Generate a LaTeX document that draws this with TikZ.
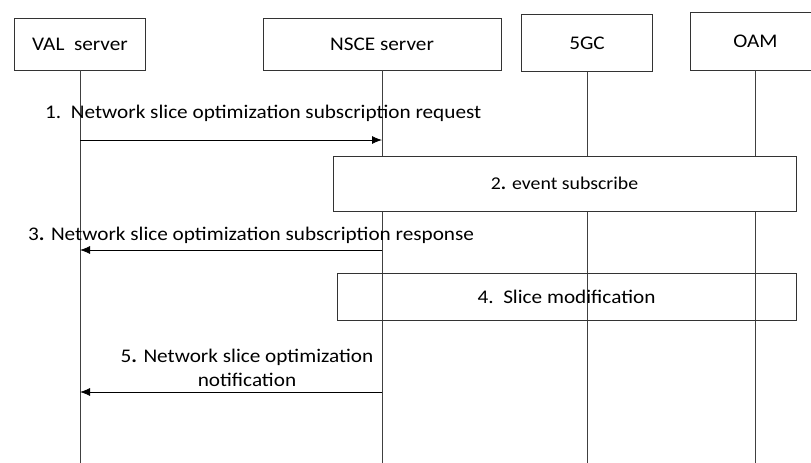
\documentclass[tikz,border=0pt]{standalone}
\usepackage{fontspec}
\setmainfont[FakeStretch=1.1]{Carlito}
\usetikzlibrary{arrows.meta}

\begin{document}
\begin{tikzpicture}[x=1pt,y=-1pt]
			\tikzset{entity/.style={draw=black!80,line width=0.8pt,inner sep=0pt,font=\fontsize{19.3}{24}\selectfont}}
			\tikzset{lifeline/.style={draw=black!75,line width=0.8pt}}
			\tikzset{msg/.style={draw=black,line width=0.8pt,-{Latex[length=10pt,width=8pt]}}}
			\tikzset{msgtext/.style={inner sep=0pt,font=\fontsize{19.3}{24}\selectfont}}
			\tikzset{procbox/.style={draw=black!80,line width=0.8pt,inner sep=0pt,font=\fontsize{19.3}{22}\selectfont}}
			\useasboundingbox (0,0) rectangle (811,463);
			\node[entity,minimum width=131pt,minimum height=52pt] (val) at (80,44) {VAL\ \ server};
			\node[entity,minimum width=238pt,minimum height=52pt] (nsce) at (382,44) {NSCE server};
			\node[entity,minimum width=131pt,minimum height=57pt] (fivegc) at (587,43) {5GC};
			\node[entity,minimum width=131pt,minimum height=58pt] (oam) at (755.5,41) {OAM};
			\draw[lifeline] (val.south) -- (val.south |- 0,463);
			\draw[lifeline] (nsce.south) -- (nsce.south |- 0,463);
			\draw[lifeline] (fivegc.south) -- (fivegc.south |- 0,463);
			\draw[lifeline] (oam.south) -- (oam.south |- 0,463);
			\node[msgtext,anchor=west] (req) at (45,113) {1.\ \ Network slice optimization subscription request};
			\draw[msg] (val.south |- 0,140) -- (nsce.south |- 0,140);
			\node[procbox,fill=white,minimum width=463pt,minimum height=55pt,font=\fontsize{18}{22}\selectfont] (evt) at (564.5,183.4) {2\textbf{.} event subscribe};
			\node[msgtext,anchor=west] (resp) at (28,235) {3\textbf{.} Network slice optimization subscription response};
			\draw[msg] (nsce.south |- 0,250) -- (val.south |- 0,250);
			\node[procbox,minimum width=459pt,minimum height=47pt] (mod) at (566.5,297.3) {4.\ \ Slice modification};
			\node[msgtext,align=center] (notif) at (247,368) {5\textbf{.} Network slice optimization\\notification};
			\draw[msg] (nsce.south |- 0,392) -- (val.south |- 0,392);
		\end{tikzpicture}
\end{document}
